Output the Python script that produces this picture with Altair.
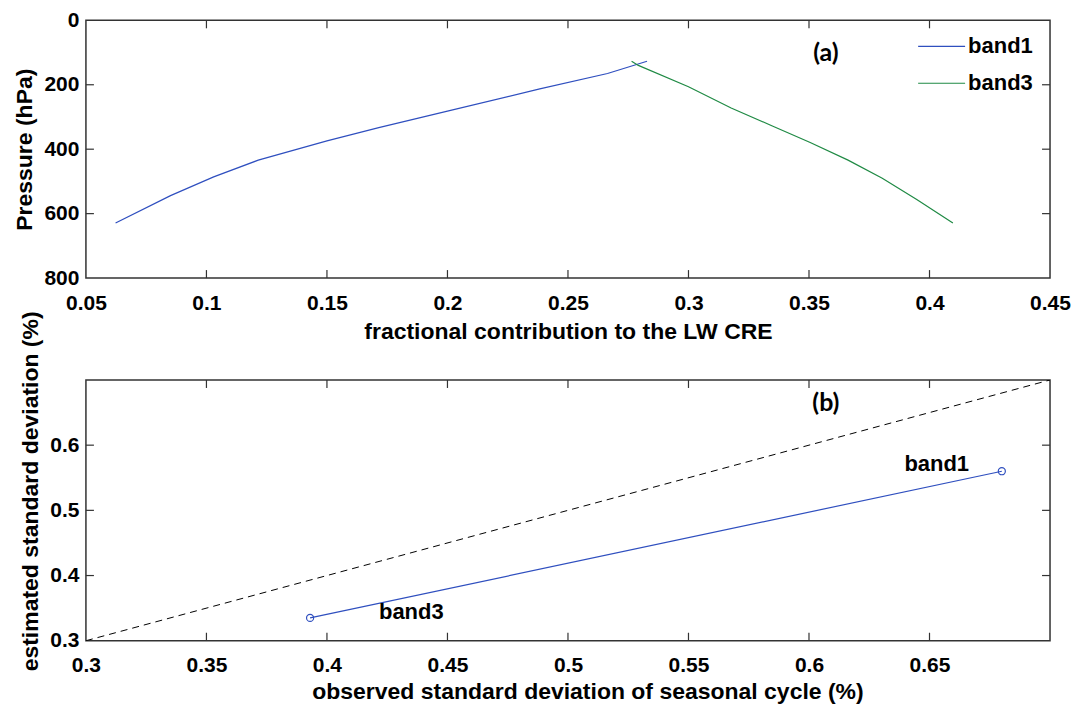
import altair as alt
import pandas as pd

# ---------------- Panel (a): fractional contribution vs pressure ----------------
band1_frac = [0.0623, 0.0851, 0.1030, 0.1215, 0.1500, 0.1715, 0.2000, 0.2383, 0.2664, 0.2828]
band1_pres = [629, 544, 486, 434, 374, 333, 282, 213, 165, 127]
band3_frac = [0.2764, 0.2792, 0.3000, 0.3177, 0.3348, 0.3505, 0.3662, 0.3804, 0.3947, 0.4097]
band3_pres = [127, 140, 206, 272, 328, 379, 434, 490, 556, 629]
band_names = ["band1", "band3"]

# ---------------- Panel (b): observed vs estimated standard deviation ----------------
obs_std = [0.393, 0.680]
est_std = [0.335, 0.560]
point_labels = ["band3", "band1"]
one_to_one = [0.3, 0.7]

# tick values
a_xticks = [0.05, 0.1, 0.15, 0.2, 0.25, 0.3, 0.35, 0.4, 0.45]
a_yticks = [0, 200, 400, 600, 800]
b_xticks = [0.3, 0.35, 0.4, 0.45, 0.5, 0.55, 0.6, 0.65]
b_yticks = [0.3, 0.4, 0.5, 0.6]

BLUE = "#2f4fbf"
GREEN = "#1f8a44"
FRAME = "#333333"
FONT = "Liberation Sans"
W = 965
HA = 258
HB = 261
TICK = 8

df_b1 = pd.DataFrame({"x": band1_frac, "p": band1_pres, "i": range(len(band1_frac))})
df_b3 = pd.DataFrame({"x": band3_frac, "p": band3_pres, "i": range(len(band3_frac))})

xa_scale = alt.Scale(domain=[0.05, 0.45], nice=False, zero=False)
ya_scale = alt.Scale(domain=[0, 800], reverse=True, nice=False, zero=False)

xa_axis = alt.Axis(values=a_xticks, format=".2~f", title="fractional contribution to the LW CRE")
ya_axis = alt.Axis(values=a_yticks, format="d", title="Pressure (hPa)")

line1 = alt.Chart(df_b1).mark_line(color=BLUE, strokeWidth=1.2).encode(
    x=alt.X("x:Q", scale=xa_scale, axis=xa_axis),
    y=alt.Y("p:Q", scale=ya_scale, axis=ya_axis),
    order="i:O",
)
line3 = alt.Chart(df_b3).mark_line(color=GREEN, strokeWidth=1.2).encode(
    x=alt.X("x:Q", scale=xa_scale),
    y=alt.Y("p:Q", scale=ya_scale),
    order="i:O",
)

# inward ticks panel (a)
ta_x = pd.DataFrame({"v": a_xticks[1:-1]})
ta_y = pd.DataFrame({"v": a_yticks[1:-1]})
tick_a_bot = alt.Chart(ta_x).mark_rule(color=FRAME, strokeWidth=1.2).encode(
    x=alt.X("v:Q", scale=xa_scale), y=alt.value(HA), y2=alt.value(HA - TICK))
tick_a_top = alt.Chart(ta_x).mark_rule(color=FRAME, strokeWidth=1.2).encode(
    x=alt.X("v:Q", scale=xa_scale), y=alt.value(0), y2=alt.value(TICK))
tick_a_left = alt.Chart(ta_y).mark_rule(color=FRAME, strokeWidth=1.2).encode(
    y=alt.Y("v:Q", scale=ya_scale), x=alt.value(0), x2=alt.value(TICK))
tick_a_right = alt.Chart(ta_y).mark_rule(color=FRAME, strokeWidth=1.2).encode(
    y=alt.Y("v:Q", scale=ya_scale), x=alt.value(W), x2=alt.value(W - TICK))

# legend (manual, upper right)
leg = []
for name, col, yy in zip(band_names, [BLUE, GREEN], [26, 63]):
    leg.append(alt.Chart(pd.DataFrame({"n": [name]})).mark_rule(color=col, strokeWidth=1.2).encode(
        x=alt.value(833), x2=alt.value(880), y=alt.value(yy)))
    leg.append(alt.Chart(pd.DataFrame({"n": [name]})).mark_text(
        align="left", baseline="middle", font=FONT, fontSize=22, fontWeight="bold", color="black").encode(
        x=alt.value(883), y=alt.value(yy), text="n:N"))

lab_a = alt.Chart(pd.DataFrame({"x": [0.357], "p": [102], "t": ["(a)"]})).mark_text(
    font="Lato", fontSize=25, fontWeight="bold", color="black").encode(
    x=alt.X("x:Q", scale=xa_scale), y=alt.Y("p:Q", scale=ya_scale), text="t:N")

panel_a = alt.layer(line1, line3, tick_a_bot, tick_a_top, tick_a_left, tick_a_right,
                    lab_a, *leg).properties(width=W, height=HA)

# ---------------- panel (b) ----------------
xb_scale = alt.Scale(domain=[0.3, 0.7], nice=False, zero=False)
yb_scale = alt.Scale(domain=[0.3, 0.7], nice=False, zero=False)
xb_axis = alt.Axis(values=b_xticks, format=".2~f",
                   title="observed standard deviation of seasonal cycle (%)", titleX=502,
                   titlePadding=5)
yb_axis = alt.Axis(values=b_yticks, format=".1~f",
                   title="estimated standard deviation (%)", titleY=111)

df_diag = pd.DataFrame({"x": one_to_one, "y": one_to_one})
df_pts = pd.DataFrame({"x": obs_std, "y": est_std, "lab": point_labels})

diag = alt.Chart(df_diag).mark_line(color="black", strokeWidth=1, strokeDash=[7, 5], clip=True).encode(
    x=alt.X("x:Q", scale=xb_scale, axis=xb_axis),
    y=alt.Y("y:Q", scale=yb_scale, axis=yb_axis),
)
bline = alt.Chart(df_pts).mark_line(color=BLUE, strokeWidth=1.2).encode(
    x=alt.X("x:Q", scale=xb_scale), y=alt.Y("y:Q", scale=yb_scale))
bpts = alt.Chart(df_pts).mark_point(shape="circle", filled=False, size=50, color=BLUE, strokeWidth=1.2,
                                    opacity=1).encode(
    x=alt.X("x:Q", scale=xb_scale), y=alt.Y("y:Q", scale=yb_scale))

txt_b = alt.Chart(pd.DataFrame({"x": [0.653, 0.435], "y": [0.571, 0.344], "t": ["band1", "band3"]})).mark_text(
    font=FONT, fontSize=22, fontWeight="bold", color="black").encode(
    x=alt.X("x:Q", scale=xb_scale), y=alt.Y("y:Q", scale=yb_scale), text="t:N")
lab_b = alt.Chart(pd.DataFrame({"x": [0.607], "y": [0.664], "t": ["(b)"]})).mark_text(
    font="Lato", fontSize=25, fontWeight="bold", color="black").encode(
    x=alt.X("x:Q", scale=xb_scale), y=alt.Y("y:Q", scale=yb_scale), text="t:N")

tb_x = pd.DataFrame({"v": b_xticks[1:]})
tb_y = pd.DataFrame({"v": b_yticks[1:]})
tick_b_bot = alt.Chart(tb_x).mark_rule(color=FRAME, strokeWidth=1.2).encode(
    x=alt.X("v:Q", scale=xb_scale), y=alt.value(HB), y2=alt.value(HB - TICK))
tick_b_top = alt.Chart(tb_x).mark_rule(color=FRAME, strokeWidth=1.2).encode(
    x=alt.X("v:Q", scale=xb_scale), y=alt.value(0), y2=alt.value(TICK))
tick_b_left = alt.Chart(tb_y).mark_rule(color=FRAME, strokeWidth=1.2).encode(
    y=alt.Y("v:Q", scale=yb_scale), x=alt.value(0), x2=alt.value(TICK))
tick_b_right = alt.Chart(tb_y).mark_rule(color=FRAME, strokeWidth=1.2).encode(
    y=alt.Y("v:Q", scale=yb_scale), x=alt.value(W), x2=alt.value(W - TICK))

panel_b = alt.layer(diag, bline, bpts, txt_b, lab_b, tick_b_bot, tick_b_top, tick_b_left,
                    tick_b_right).properties(width=W, height=HB)

chart = alt.vconcat(panel_a, panel_b, spacing=102, bounds="flush").properties(
    padding={"left": 5, "top": 0, "right": 0, "bottom": 0},
    background="white",
).configure_view(
    stroke=FRAME, strokeWidth=1.5
).configure_axis(
    labelFont=FONT, labelFontSize=21, labelFontWeight="bold", labelColor="black",
    titleFont=FONT, titleFontSize=23, titleFontWeight="bold", titleColor="black",
    ticks=False, tickSize=0, domain=False, grid=False, titlePadding=7,
    labelFlush=False, labelOverlap=False,
).configure_axisX(
    labelPadding=14,
).configure_axisY(
    labelPadding=7,
)

chart.save("out.html", embed_options={"renderer": "svg", "actions": False})
